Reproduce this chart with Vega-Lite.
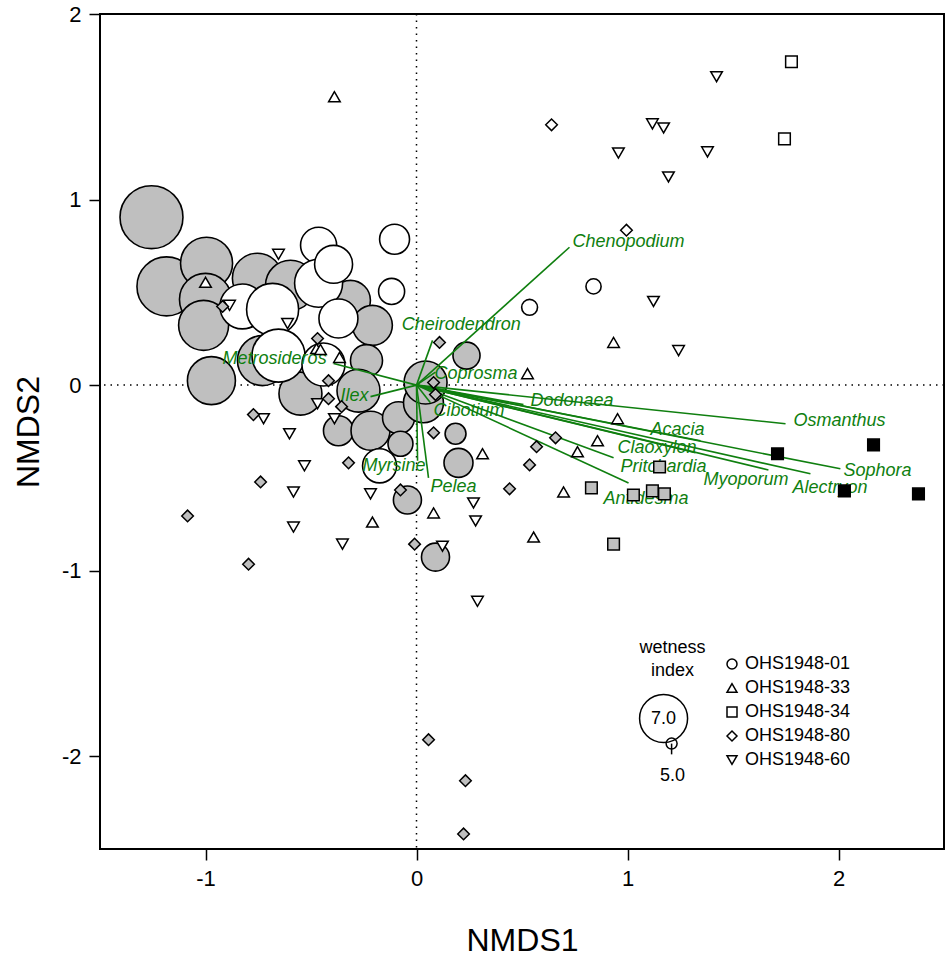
{
  "$schema": "https://vega.github.io/schema/vega-lite/v6.json",
  "autosize": "none",
  "width": 844,
  "height": 835,
  "padding": {"left": 100, "top": 14, "right": 6, "bottom": 110},
  "background": "white",
  "config": {
    "view": {"stroke": "black", "strokeWidth": 2},
    "axis": {"grid": false, "domain": false, "tickColor": "black", "tickWidth": 1.5, "tickSize": 11, "labelFontSize": 22, "labelColor": "black", "labelFont": "Liberation Sans, Arial", "titleFont": "Liberation Sans, Arial", "titleFontSize": 32, "titleFontWeight": "normal", "titleColor": "black", "labelPadding": 8, "labelExpr": "'' + datum.value"},
    "text": {"font": "Liberation Sans, Arial"}
  },
  "datasets": {
    "bubbles": [
      {"x":-1.256,"y":0.905,"w":8.52,"cls":"A"},
      {"x":-1.185,"y":0.532,"w":8.08,"cls":"A"},
      {"x":-0.995,"y":0.657,"w":7.37,"cls":"A"},
      {"x":-1.0,"y":0.462,"w":7.37,"cls":"A"},
      {"x":-1.009,"y":0.322,"w":7.18,"cls":"A"},
      {"x":-0.754,"y":0.576,"w":7.18,"cls":"A"},
      {"x":-0.972,"y":0.024,"w":7.0,"cls":"A"},
      {"x":-0.597,"y":0.538,"w":7.18,"cls":"A"},
      {"x":-0.313,"y":0.457,"w":6.35,"cls":"A"},
      {"x":-0.73,"y":0.132,"w":7.18,"cls":"A"},
      {"x":-0.55,"y":-0.046,"w":6.58,"cls":"A"},
      {"x":-0.209,"y":0.322,"w":6.35,"cls":"A"},
      {"x":-0.237,"y":0.132,"w":5.83,"cls":"A"},
      {"x":-0.275,"y":-0.03,"w":6.58,"cls":"A"},
      {"x":-0.37,"y":-0.246,"w":5.71,"cls":"A"},
      {"x":-0.218,"y":-0.246,"w":6.28,"cls":"A"},
      {"x":-0.085,"y":-0.176,"w":5.83,"cls":"A"},
      {"x":-0.076,"y":-0.316,"w":5.46,"cls":"A"},
      {"x":0.033,"y":-0.095,"w":6.35,"cls":"A"},
      {"x":0.043,"y":0.014,"w":6.58,"cls":"A"},
      {"x":0.237,"y":0.159,"w":5.56,"cls":"A"},
      {"x":0.185,"y":-0.262,"w":5.29,"cls":"A"},
      {"x":0.199,"y":-0.419,"w":5.66,"cls":"A"},
      {"x":-0.043,"y":-0.619,"w":5.61,"cls":"A"},
      {"x":0.09,"y":-0.927,"w":5.61,"cls":"A"},
      {"x":-0.104,"y":0.786,"w":5.71,"cls":"B"},
      {"x":-0.118,"y":0.505,"w":5.51,"cls":"B"},
      {"x":-0.464,"y":0.754,"w":6.08,"cls":"B"},
      {"x":-0.464,"y":0.549,"w":7.0,"cls":"B"},
      {"x":-0.393,"y":0.651,"w":6.21,"cls":"B"},
      {"x":-0.825,"y":0.424,"w":6.74,"cls":"B"},
      {"x":-0.682,"y":0.408,"w":7.37,"cls":"B"},
      {"x":-0.37,"y":0.359,"w":6.28,"cls":"B"},
      {"x":-0.654,"y":0.159,"w":7.46,"cls":"B"},
      {"x":-0.441,"y":0.111,"w":6.58,"cls":"B"},
      {"x":-0.175,"y":-0.435,"w":5.95,"cls":"B"},
      {"x":0.839,"y":0.532,"w":5.1,"cls":"B"},
      {"x":0.536,"y":0.419,"w":5.12,"cls":"B"}
    ],
    "pts": [
      {"x":-0.389,"y":1.554,"plot":"OHS1948-33","cls":"B"},
      {"x":-1.0,"y":0.554,"plot":"OHS1948-33","cls":"B"},
      {"x":0.934,"y":0.23,"plot":"OHS1948-33","cls":"B"},
      {"x":0.526,"y":0.062,"plot":"OHS1948-33","cls":"B"},
      {"x":0.953,"y":-0.181,"plot":"OHS1948-33","cls":"B"},
      {"x":0.858,"y":-0.3,"plot":"OHS1948-33","cls":"B"},
      {"x":0.763,"y":-0.359,"plot":"OHS1948-33","cls":"B"},
      {"x":0.313,"y":-0.37,"plot":"OHS1948-33","cls":"B"},
      {"x":0.697,"y":-0.576,"plot":"OHS1948-33","cls":"B"},
      {"x":0.555,"y":-0.819,"plot":"OHS1948-33","cls":"B"},
      {"x":0.081,"y":-0.689,"plot":"OHS1948-33","cls":"B"},
      {"x":-0.209,"y":-0.738,"plot":"OHS1948-33","cls":"B"},
      {"x":-0.474,"y":0.197,"plot":"OHS1948-33","cls":"B"},
      {"x":-0.455,"y":0.192,"plot":"OHS1948-33","cls":"B"},
      {"x":-0.365,"y":0.149,"plot":"OHS1948-33","cls":"B"},
      {"x":1.422,"y":1.662,"plot":"OHS1948-60","cls":"B"},
      {"x":1.118,"y":1.408,"plot":"OHS1948-60","cls":"B"},
      {"x":1.171,"y":1.386,"plot":"OHS1948-60","cls":"B"},
      {"x":0.957,"y":1.251,"plot":"OHS1948-60","cls":"B"},
      {"x":1.379,"y":1.257,"plot":"OHS1948-60","cls":"B"},
      {"x":1.194,"y":1.122,"plot":"OHS1948-60","cls":"B"},
      {"x":1.123,"y":0.451,"plot":"OHS1948-60","cls":"B"},
      {"x":1.242,"y":0.186,"plot":"OHS1948-60","cls":"B"},
      {"x":-0.654,"y":0.705,"plot":"OHS1948-60","cls":"B"},
      {"x":-0.611,"y":0.332,"plot":"OHS1948-60","cls":"B"},
      {"x":-0.886,"y":0.43,"plot":"OHS1948-60","cls":"B"},
      {"x":-0.725,"y":-0.181,"plot":"OHS1948-60","cls":"B"},
      {"x":-0.602,"y":-0.262,"plot":"OHS1948-60","cls":"B"},
      {"x":-0.531,"y":-0.435,"plot":"OHS1948-60","cls":"B"},
      {"x":-0.583,"y":-0.576,"plot":"OHS1948-60","cls":"B"},
      {"x":-0.583,"y":-0.765,"plot":"OHS1948-60","cls":"B"},
      {"x":-0.351,"y":-0.857,"plot":"OHS1948-60","cls":"B"},
      {"x":-0.469,"y":-0.1,"plot":"OHS1948-60","cls":"B"},
      {"x":-0.389,"y":-0.181,"plot":"OHS1948-60","cls":"B"},
      {"x":-0.218,"y":-0.586,"plot":"OHS1948-60","cls":"B"},
      {"x":0.27,"y":-0.635,"plot":"OHS1948-60","cls":"B"},
      {"x":0.28,"y":-0.732,"plot":"OHS1948-60","cls":"B"},
      {"x":0.123,"y":-0.868,"plot":"OHS1948-60","cls":"B"},
      {"x":0.289,"y":-1.165,"plot":"OHS1948-60","cls":"B"},
      {"x":0.64,"y":1.403,"plot":"OHS1948-80","cls":"B"},
      {"x":0.995,"y":0.835,"plot":"OHS1948-80","cls":"B"},
      {"x":0.659,"y":-0.284,"plot":"OHS1948-80","cls":"A"},
      {"x":0.569,"y":-0.332,"plot":"OHS1948-80","cls":"A"},
      {"x":0.536,"y":-0.43,"plot":"OHS1948-80","cls":"A"},
      {"x":0.441,"y":-0.559,"plot":"OHS1948-80","cls":"A"},
      {"x":0.109,"y":0.23,"plot":"OHS1948-80","cls":"A"},
      {"x":0.081,"y":0.014,"plot":"OHS1948-80","cls":"A"},
      {"x":0.09,"y":-0.051,"plot":"OHS1948-80","cls":"A"},
      {"x":0.081,"y":-0.257,"plot":"OHS1948-80","cls":"A"},
      {"x":-0.322,"y":-0.419,"plot":"OHS1948-80","cls":"A"},
      {"x":-0.076,"y":-0.565,"plot":"OHS1948-80","cls":"A"},
      {"x":-0.009,"y":-0.857,"plot":"OHS1948-80","cls":"A"},
      {"x":-0.417,"y":-0.073,"plot":"OHS1948-80","cls":"A"},
      {"x":-0.355,"y":-0.116,"plot":"OHS1948-80","cls":"A"},
      {"x":-0.417,"y":0.024,"plot":"OHS1948-80","cls":"A"},
      {"x":-0.469,"y":0.251,"plot":"OHS1948-80","cls":"A"},
      {"x":-0.919,"y":0.424,"plot":"OHS1948-80","cls":"A"},
      {"x":-0.773,"y":-0.159,"plot":"OHS1948-80","cls":"A"},
      {"x":-0.739,"y":-0.522,"plot":"OHS1948-80","cls":"A"},
      {"x":-1.085,"y":-0.705,"plot":"OHS1948-80","cls":"A"},
      {"x":-0.796,"y":-0.965,"plot":"OHS1948-80","cls":"A"},
      {"x":0.057,"y":-1.911,"plot":"OHS1948-80","cls":"A"},
      {"x":0.232,"y":-2.132,"plot":"OHS1948-80","cls":"A"},
      {"x":0.223,"y":-2.419,"plot":"OHS1948-80","cls":"A"},
      {"x":1.777,"y":1.743,"plot":"OHS1948-34","cls":"B"},
      {"x":1.744,"y":1.327,"plot":"OHS1948-34","cls":"B"},
      {"x":1.152,"y":-0.441,"plot":"OHS1948-34","cls":"A"},
      {"x":0.829,"y":-0.554,"plot":"OHS1948-34","cls":"A"},
      {"x":1.028,"y":-0.592,"plot":"OHS1948-34","cls":"A"},
      {"x":1.118,"y":-0.57,"plot":"OHS1948-34","cls":"A"},
      {"x":1.175,"y":-0.586,"plot":"OHS1948-34","cls":"A"},
      {"x":0.934,"y":-0.857,"plot":"OHS1948-34","cls":"A"},
      {"x":1.711,"y":-0.37,"plot":"OHS1948-34","cls":"C"},
      {"x":2.166,"y":-0.322,"plot":"OHS1948-34","cls":"C"},
      {"x":2.028,"y":-0.57,"plot":"OHS1948-34","cls":"C"},
      {"x":2.379,"y":-0.586,"plot":"OHS1948-34","cls":"C"}
    ],
    "vectors": [
      {"sp":"Chenopodium","ex":0.725,"ey":0.743,"lx":0.739,"ly":0.77},
      {"sp":"Cheirodendron","ex":0.076,"ey":0.241,"lx":-0.07,"ly":0.322},
      {"sp":"Coprosma","ex":0.09,"ey":0.07,"lx":0.085,"ly":0.062},
      {"sp":"Cibotium","ex":0.066,"ey":-0.095,"lx":0.081,"ly":-0.138},
      {"sp":"Dodonaea","ex":0.507,"ey":-0.105,"lx":0.54,"ly":-0.084},
      {"sp":"Acacia","ex":1.346,"ey":-0.3,"lx":1.109,"ly":-0.24},
      {"sp":"Claoxylon","ex":1.322,"ey":-0.365,"lx":0.953,"ly":-0.338},
      {"sp":"Pritchardia","ex":0.934,"ey":-0.392,"lx":0.967,"ly":-0.441},
      {"sp":"Antidesma","ex":1.005,"ey":-0.527,"lx":0.886,"ly":-0.613},
      {"sp":"Osmanthus","ex":1.749,"ey":-0.208,"lx":1.787,"ly":-0.192},
      {"sp":"Sophora","ex":2.009,"ey":-0.451,"lx":2.024,"ly":-0.462},
      {"sp":"Alectryon","ex":1.867,"ey":-0.478,"lx":1.782,"ly":-0.554},
      {"sp":"Myoporum","ex":1.668,"ey":-0.457,"lx":1.36,"ly":-0.511},
      {"sp":"Metrosideros","ex":-0.393,"ey":0.116,"lx":-0.919,"ly":0.143},
      {"sp":"Ilex","ex":-0.218,"ey":-0.062,"lx":-0.36,"ly":-0.057},
      {"sp":"Myrsine","ex":0.005,"ey":-0.408,"lx":-0.256,"ly":-0.435},
      {"sp":"Pelea","ex":0.057,"ey":-0.5,"lx":0.066,"ly":-0.549}
    ],
    "wcircles": [
      {"x":1.171,"y":-1.797,"w":7.0},
      {"x":1.209,"y":-1.932,"w":5.0}
    ],
    "wtext": [
      {"x":1.213,"y":-1.419,"t":"wetness"},
      {"x":1.213,"y":-1.543,"t":"index"},
      {"x":1.171,"y":-1.797,"t":"7.0"},
      {"x":1.213,"y":-2.105,"t":"5.0"}
    ]
  },
  "layer": [
    {
      "data": {"values": [{"v": 0}]},
      "mark": {"type": "rule", "color": "black", "strokeWidth": 1.5, "strokeDash": [1.5, 5]},
      "encoding": {
        "x": {"field": "v", "type": "quantitative", "scale": {"domain": [-1.5, 2.5], "nice": false, "zero": false}, "axis": {"values": [-1, 0, 1, 2], "title": "NMDS1", "titlePadding": 36}}
      }
    },
    {
      "data": {"values": [{"v": 0}]},
      "mark": {"type": "rule", "color": "black", "strokeWidth": 1.5, "strokeDash": [1.5, 5]},
      "encoding": {
        "y": {"field": "v", "type": "quantitative", "scale": {"domain": [-2.5, 2], "nice": false, "zero": false}, "axis": {"values": [-2, -1, 0, 1, 2], "title": "NMDS2", "titlePadding": 16}}
      }
    },
    {
      "data": {"name": "bubbles"},
      "mark": {"type": "point", "shape": "circle", "filled": true, "opacity": 1, "stroke": "black", "strokeWidth": 1.6},
      "encoding": {
        "x": {"field": "x", "type": "quantitative"},
        "y": {"field": "y", "type": "quantitative"},
        "size": {"field": "w", "type": "quantitative", "scale": {"domain": [5, 7], "range": [121, 2304], "zero": false}, "legend": null},
        "fill": {"field": "cls", "type": "nominal", "scale": {"domain": ["A", "B", "C"], "range": ["#bfbfbf", "#ffffff", "#000000"]}, "legend": null}
      }
    },
    {
      "data": {"name": "vectors"},
      "mark": {"type": "rule", "color": "#0f7f0f", "strokeWidth": 1.6},
      "encoding": {
        "x": {"field": "ex", "type": "quantitative"},
        "y": {"field": "ey", "type": "quantitative"},
        "x2": {"datum": 0},
        "y2": {"datum": 0}
      }
    },
    {
      "data": {"name": "vectors"},
      "mark": {"type": "text", "align": "left", "baseline": "middle", "fontStyle": "italic", "fontSize": 18, "color": "#0f7f0f", "font": "Liberation Sans, Arial"},
      "encoding": {
        "x": {"field": "lx", "type": "quantitative"},
        "y": {"field": "ly", "type": "quantitative"},
        "text": {"field": "sp"}
      }
    },
    {
      "data": {"name": "pts"},
      "mark": {"type": "point", "filled": true, "opacity": 1, "stroke": "black", "strokeWidth": 1.5, "size": 135},
      "encoding": {
        "x": {"field": "x", "type": "quantitative"},
        "y": {"field": "y", "type": "quantitative"},
        "shape": {"field": "plot", "type": "nominal",
          "scale": {"domain": ["OHS1948-01", "OHS1948-33", "OHS1948-34", "OHS1948-80", "OHS1948-60"], "range": ["circle", "triangle-up", "square", "diamond", "triangle-down"]},
          "legend": {"orient": "none", "legendX": 623, "legendY": 641, "title": null, "padding": 0, "labelFontSize": 18, "labelFont": "Liberation Sans, Arial", "labelColor": "black", "symbolSize": 100, "symbolStrokeWidth": 1.5, "symbolFillColor": "white", "symbolStrokeColor": "black", "rowPadding": 6, "labelOffset": 4,
            "encode": {"symbols": {"update": {"fill": {"value": "white"}, "stroke": {"value": "black"}, "strokeWidth": {"value": 1.5}, "opacity": {"value": 1}}}}}},
        "fill": {"field": "cls", "type": "nominal", "legend": null}
      }
    },
    {
      "data": {"name": "wcircles"},
      "mark": {"type": "point", "shape": "circle", "filled": false, "opacity": 1, "stroke": "black", "strokeWidth": 1.5},
      "encoding": {
        "x": {"field": "x", "type": "quantitative"},
        "y": {"field": "y", "type": "quantitative"},
        "size": {"field": "w", "type": "quantitative", "legend": null}
      }
    },
    {
      "data": {"values": [{"x": 1.209, "y": -1.932, "y2": -1.99}]},
      "mark": {"type": "rule", "color": "black", "strokeWidth": 1.5},
      "encoding": {
        "x": {"field": "x", "type": "quantitative"},
        "y": {"field": "y", "type": "quantitative"},
        "y2": {"field": "y2"}
      }
    },
    {
      "data": {"name": "wtext"},
      "mark": {"type": "text", "align": "center", "baseline": "middle", "fontSize": 18, "color": "black", "font": "Liberation Sans, Arial"},
      "encoding": {
        "x": {"field": "x", "type": "quantitative"},
        "y": {"field": "y", "type": "quantitative"},
        "text": {"field": "t"}
      }
    }
  ]
}
